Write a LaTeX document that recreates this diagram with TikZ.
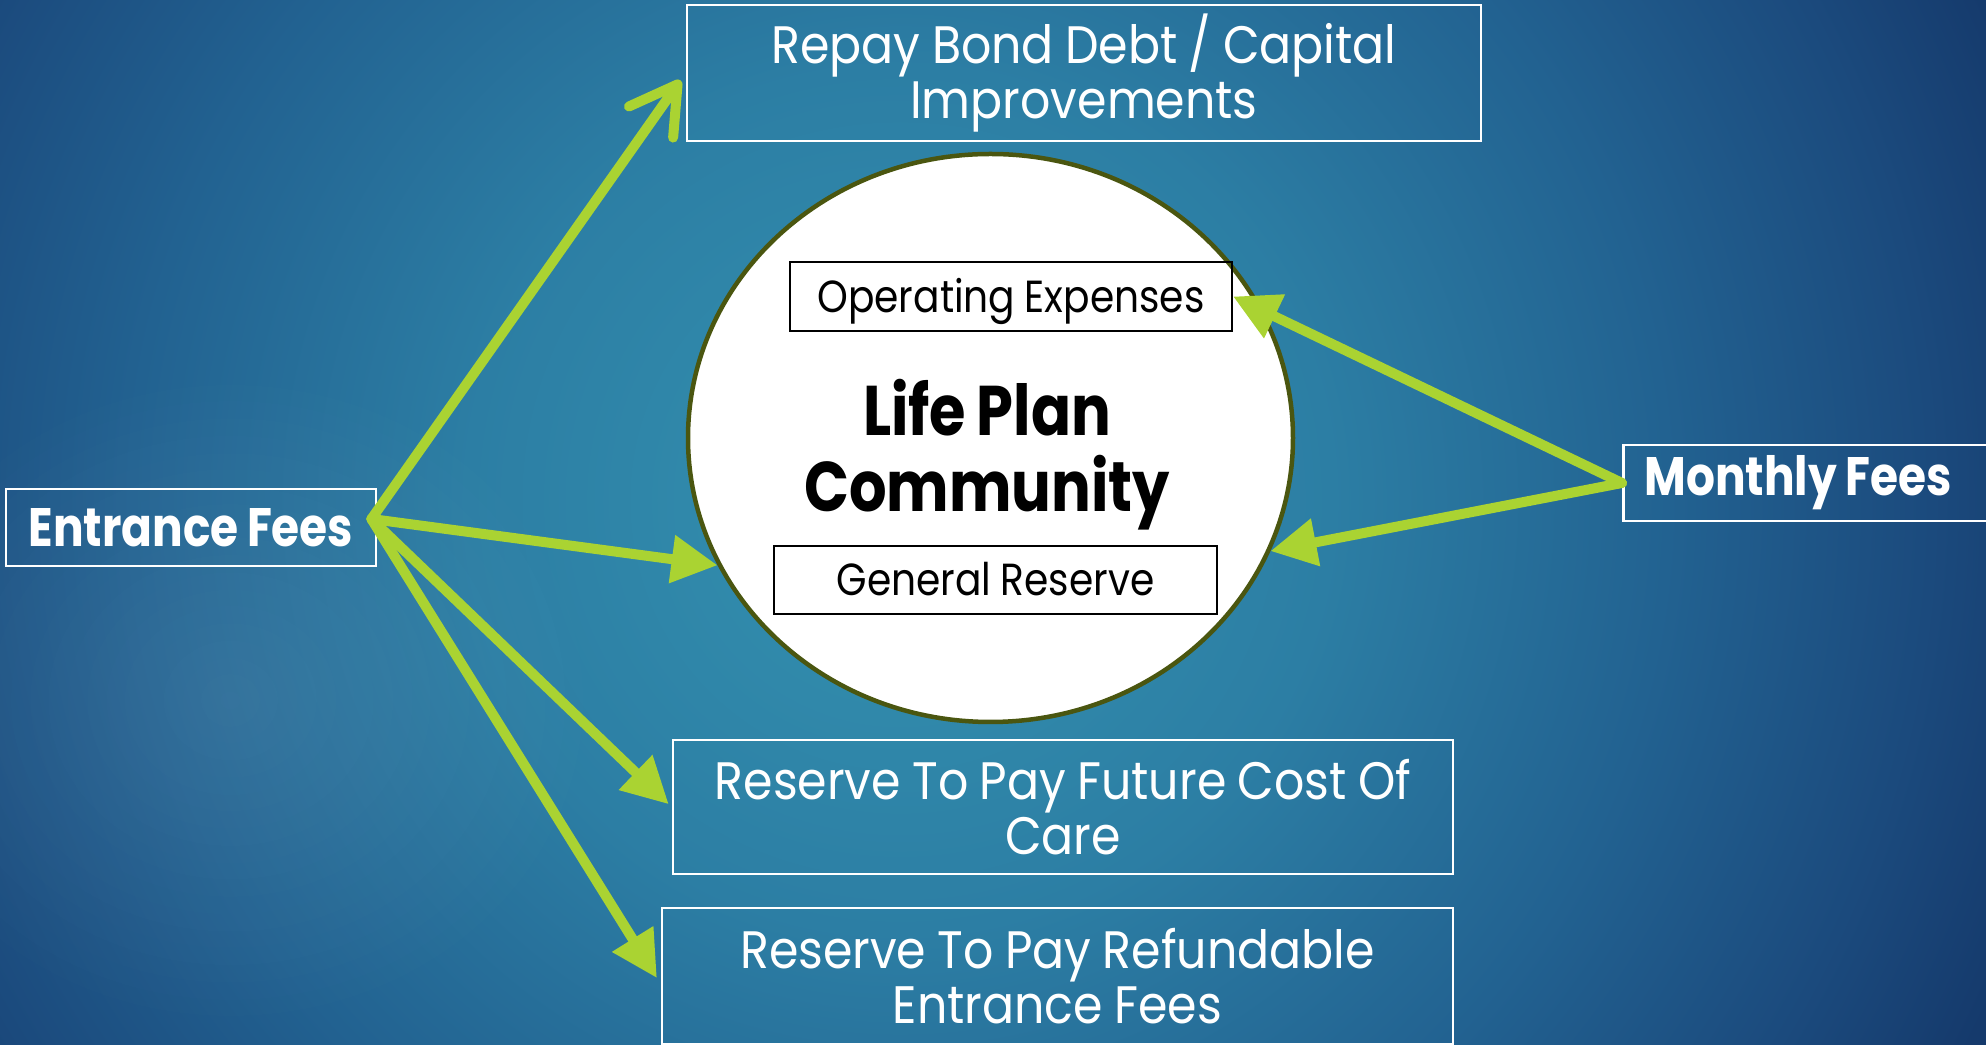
\documentclass[tikz,border=0pt]{standalone}
\usepackage{fontspec}
\setmainfont{Poppins}
\newfontfamily\plainfont{Poppins}[FakeStretch=0.87,WordSpace=0.9]
\newfontfamily\widefont{Poppins}[FakeStretch=0.9,WordSpace=0.9]
\newfontfamily\heavyfont{Poppins}[FakeStretch=0.84,WordSpace=0.85]
\usetikzlibrary{arrows.meta,positioning,shapes.geometric,calc,fadings}
\definecolor{bgteal}{RGB}{52,146,176}
\definecolor{bgmid}{RGB}{44,126,164}
\definecolor{bgdark}{RGB}{34,98,145}
\definecolor{bgdeep}{RGB}{27,74,125}
\definecolor{bgnavy}{RGB}{21,58,108}
\definecolor{feegreen}{RGB}{170,211,50}
\definecolor{rimolive}{RGB}{74,86,16}
% glow behind the circle (the inner 25bp are what fills the box)
\pgfdeclareradialshading{bgglow}{\pgfpoint{0bp}{0bp}}{color(0bp)=(bgteal); color(9bp)=(bgmid); color(16bp)=(bgdark); color(21.5bp)=(bgdeep); color(25bp)=(bgnavy); color(50bp)=(bgnavy)}
\tikzfading[name=softspot,inner color=transparent!0,outer color=transparent!100]

\tikzset{
  outbox/.style={draw=white,line width=0.28mm,text=white,align=center,
    font=\widefont\fontsize{15}{15.6}\selectfont,inner sep=0pt},
  feebox/.style={draw=white,line width=0.28mm,text=white,
    font=\heavyfont\fontsize{15.4}{16}\selectfont\bfseries,inner sep=0pt},
  inbox/.style={draw=black,line width=0.22mm,text=black,
    font=\plainfont\fontsize{12.8}{13}\selectfont,inner sep=0pt,
    text height=3.2mm,text depth=0mm},
  feearrow/.style={draw=feegreen,line width=1mm,line cap=round,
    -{Triangle[length=4.6mm,width=4.6mm]}},
  openarrow/.style={draw=feegreen,line width=1mm,line cap=round,
    -{Straight Barb[length=4.6mm,width=5.4mm,round]}}
}

\begin{document}
\begin{tikzpicture}[x=0.1mm,y=-0.1mm]
\useasboundingbox (0,0) rectangle (1986,1045);
% backdrop
\begin{scope}
  \clip (0,0) rectangle (1986,1045);
  \fill[bgnavy] (0,0) rectangle (1986,1045);
  \shade[shading=bgglow] (-300,-700) rectangle (2100,1700);
  \fill[white,opacity=0.08,path fading=softspot] (230,700) ellipse (380 and 340);
\end{scope}

% community in the middle
\node[ellipse,draw=rimolive,line width=0.45mm,fill=white,
  minimum width=60.5mm,minimum height=56.8mm] (lpc) at (990.5,438) {};
\node[font=\heavyfont\fontsize{20}{21.6}\selectfont\bfseries,align=center] (lpt)
  at (987,455) {Life Plan\\Community};
\node[inbox,minimum width=44.2mm,minimum height=6.9mm] (opex) at (1011,296.5)
  {Operating Expenses};
\node[inbox,minimum width=44.3mm,minimum height=6.8mm] (genres) at (995.5,580)
  {General Reserve};

% where the money goes
\node[outbox,minimum width=79.4mm,minimum height=13.6mm] (bond) at (1084,73)
  {Repay Bond Debt / Capital\\Improvements};
\node[outbox,minimum width=78mm,minimum height=13.4mm] (care) at (1063,807)
  {Reserve To Pay Future Cost Of\\Care};
\node[outbox,minimum width=79.1mm,minimum height=13.6mm] (refund) at (1057.5,976)
  {Reserve To Pay Refundable\\Entrance Fees};

% fee sources
\node[feebox,minimum width=37mm,minimum height=7.7mm] (entrance) at (191,527.5)
  {Entrance Fees};
\node[feebox,anchor=west,text width=36mm,inner xsep=2.1mm,minimum height=7.6mm,
  align=flush left] (monthly) at (1622,483) {Monthly Fees};

\coordinate (ef) at ([xshift=-0.6mm,yshift=0.85mm]entrance.east);

\draw[openarrow,shorten >=0.9mm] (ef) -- (bond.west);
\draw[feearrow] (ef) -- (lpc.205);
\draw[feearrow,shorten >=0.4mm] (ef) -- (care.west);
\draw[feearrow,shorten >=0.7mm] (ef) -- ([yshift=-0.8mm]refund.west);
\draw[feearrow] (monthly.west) -- (opex.east);
\draw[feearrow] (monthly.west) -- (lpc.338);
\end{tikzpicture}
\end{document}
